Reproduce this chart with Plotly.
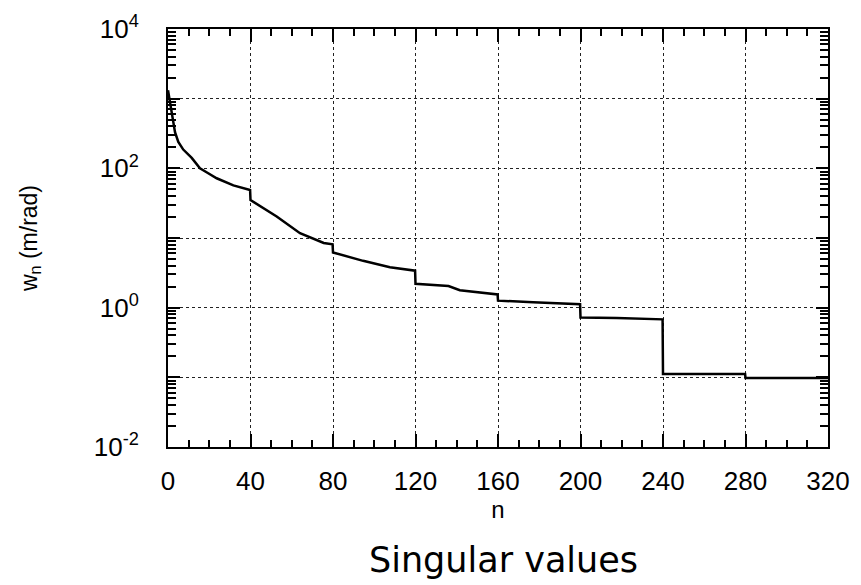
import plotly.graph_objects as go

# Singular values w_n of the operator, ordered by index n
n_index = [0, 1, 2, 3.4, 5, 7.4, 11.5, 15.5, 19.5, 23.6, 31.7, 39.8,
           40, 52.7, 64, 75.5, 79.8,
           80, 94.6, 107.6, 119.8,
           120, 136, 141.5, 159.8,
           160, 177, 199.8,
           200, 217.6, 239.8,
           240, 279.8,
           280, 320]
w_n = [1320, 890, 560, 330, 240, 186, 141, 100, 85, 72, 57, 49,
       35, 20.4, 11.7, 8.5, 8.1,
       6.2, 4.7, 3.8, 3.4,
       2.2, 2.04, 1.78, 1.55,
       1.26, 1.2, 1.12,
       0.72, 0.71, 0.68,
       0.112, 0.112,
       0.098, 0.098]

x_ticks = [0, 40, 80, 120, 160, 200, 240, 280, 320]
y_decades = [1e-2, 1e-1, 1e0, 1e1, 1e2, 1e3, 1e4]
y_ticktext = ["10<sup>-2</sup>", "", "10<sup>0</sup>", "", "10<sup>2</sup>", "", "10<sup>4</sup>"]

x_minor = [v for v in range(0, 321, 10) if v % 40 != 0]
y_minor = [d * k for d in y_decades[:-1] for k in range(2, 10)]

sans = "Liberation Sans, Arial, sans-serif"
tick_font = dict(family=sans, size=26, color="black")

fig = go.Figure()
fig.add_trace(go.Scatter(
    x=n_index, y=w_n, mode="lines",
    line=dict(color="black", width=2.5),
    showlegend=False,
))

fig.update_xaxes(
    range=[0, 320],
    tickmode="array", tickvals=x_ticks, ticktext=[str(v) for v in x_ticks],
    ticks="inside", ticklen=13, tickwidth=2, tickcolor="black",
    showline=True, linecolor="black", linewidth=2, mirror="allticks",
    showgrid=True, gridcolor="#222", gridwidth=1.2, griddash="dot",
    minor=dict(tickmode="array", tickvals=x_minor, ticks="inside",
               ticklen=7, tickwidth=2, tickcolor="black", showgrid=False),
    tickfont=tick_font, ticklabelstandoff=10,
    title=dict(text="n", font=dict(family=sans, size=24, color="black"), standoff=6),
    zeroline=False,
)

fig.update_yaxes(
    type="log", range=[-2, 4],
    tickmode="array", tickvals=y_decades, ticktext=y_ticktext,
    ticks="inside", ticklen=12, tickwidth=2, tickcolor="black",
    showline=True, linecolor="black", linewidth=2, mirror="allticks",
    showgrid=True, gridcolor="#222", gridwidth=1.2, griddash="dot",
    minor=dict(tickmode="array", tickvals=y_minor, ticks="inside",
               ticklen=8, tickwidth=2, tickcolor="black", showgrid=False),
    tickfont=tick_font, ticklabelstandoff=22,
    title=dict(text="w<sub>n</sub> (m/rad)",
               font=dict(family=sans, size=23, color="black"), standoff=50),
    zeroline=False,
)

fig.add_annotation(
    text="Singular values", xref="paper", yref="paper",
    x=0.508, y=-0.27, xanchor="center", yanchor="middle", showarrow=False,
    font=dict(family="DejaVu Sans, sans-serif", size=35, color="black"),
)

fig.update_layout(
    width=861, height=585,
    margin=dict(l=168, r=33, t=29, b=138),
    plot_bgcolor="white", paper_bgcolor="white",
)

fig.write_html("out.html")
